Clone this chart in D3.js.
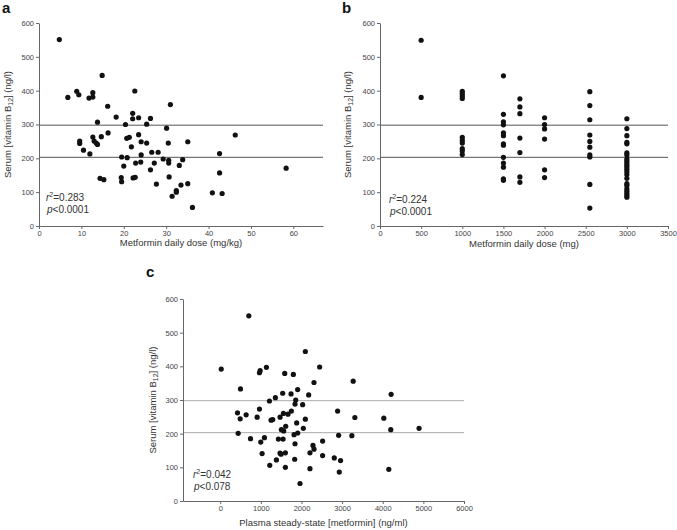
<!DOCTYPE html>
<html>
<head>
<meta charset="utf-8">
<script src="https://cdn.jsdelivr.net/npm/d3@7"></script>
<style>
  body { margin: 0; background: #fff; }
  svg text { font-family: "Liberation Sans", Arial, sans-serif; fill: #333; }
</style>
</head>
<body>
<div id="chart"></div>
<script>
// panel a: dose (mg/kg) vs serum B12
const doseKg = [4.8, 14.9, 6.8, 8.9, 9.4, 12.7, 11.8, 12.7, 22.6, 16.2, 31.0, 18.2, 22.1, 22.1, 23.5, 26.3, 13.8, 20.4, 25.4, 30.1,
  16.3, 23.5, 46.3, 9.6, 9.6, 12.7, 14.7, 13.0, 13.8, 13.5, 20.7, 21.3, 24.1, 25.4, 30.5, 35.1, 21.8, 10.5, 12.0, 19.5,
  20.8, 24.1, 26.6, 28.1, 20.0, 22.8, 24.0, 27.2, 29.3, 30.6, 30.6, 33.1, 33.9, 42.6, 58.3, 26.3, 19.4, 19.5, 14.4, 15.3,
  22.2, 22.7, 30.7, 27.7, 35.1, 33.5, 42.6, 32.4, 32.4, 31.4, 40.9, 43.2, 36.2];
const b12A = [551, 445, 380, 398, 388, 394, 378, 381, 399, 354, 359, 322, 333, 317, 320, 318, 307, 300, 301, 289,
  275, 270, 269, 251, 244, 263, 264, 251, 241, 245, 259, 262, 249, 245, 245, 249, 234, 224, 213, 204,
  202, 210, 218, 218, 177, 186, 189, 186, 198, 194, 186, 179, 196, 214, 171, 166, 143, 131, 141, 137,
  142, 144, 145, 124, 125, 121, 157, 105, 100, 88, 98, 96, 55];

// panel b: dose (mg) groups
const doseMg = [500, 1000, 1500, 1700, 2000, 2550, 3000];
const b12B = [
  [549, 380],
  [398, 391, 384, 377, 262, 253, 245, 229, 222, 211],
  [444, 330, 308, 299, 275, 267, 243, 239, 203, 186, 174, 139, 135],
  [376, 352, 332, 260, 217, 145, 129],
  [320, 300, 287, 257, 166, 143],
  [397, 356, 314, 269, 250, 233, 210, 204, 123, 53],
  [317, 288, 267, 247, 243, 216, 210, 198, 192, 186, 180, 175, 168, 160, 152, 141, 125, 120, 110, 103, 96, 90, 85]
];

// panel c: plasma metformin (ng/ml)
const plasma = [704, 25, 2095, 2447, 1137, 982, 966, 1588, 1800, 2308, 3273, 499, 1906, 1538, 1743, 2177, 4206, 1358, 1211, 1858,
  1841, 2029, 966, 2889, 425, 638, 1555, 1669, 1751, 908, 1473, 3314, 4026, 491, 1293, 1252, 2095, 1882, 1612, 1506,
  1563, 2046, 1817, 1907, 442, 2914, 3240, 4198, 4894, 745, 1088, 1432, 1547, 998, 1841, 2520, 2283, 2308, 1031, 1473,
  1498, 1604, 2209, 2520, 2807, 2962, 1833, 1383, 1219, 1604, 2209, 2930, 4149, 1964];
const b12C = [550, 392, 444, 398, 397, 387, 381, 379, 376, 352, 356, 333, 331, 320, 318, 315, 317, 307, 297, 300,
  288, 286, 273, 267, 262, 256, 260, 258, 267, 249, 249, 248, 246, 244, 242, 240, 243, 232, 222, 212,
  208, 216, 197, 202, 201, 195, 194, 212, 216, 185, 188, 184, 184, 175, 170, 178, 165, 154, 141, 142,
  139, 143, 143, 135, 128, 120, 124, 122, 106, 100, 96, 86, 94, 52];

const refLines = [298, 203];
const yTicks = [0, 100, 200, 300, 400, 500, 600];

const panels = [
  {
    letter: "a", lx: 2, ly: 13,
    x0: 39, x1: 323, y0: 226, y1: 23, xDomain: [0, 67], xTicks: d3.range(0, 61, 10),
    xLabel: "Metformin daily dose (mg/kg)", xLabelY: 246, yLabelX: 11,
    pts: doseKg.map((d, i) => [d, b12A[i]]),
    stats: ["0.283", "p<0.0001"], sx: 46, sy: 201, refColor: "#555"
  },
  {
    letter: "b", lx: 342, ly: 13,
    x0: 380, x1: 668, y0: 226, y1: 23, xDomain: [0, 3500], xTicks: d3.range(0, 3501, 500),
    xLabel: "Metformin daily dose (mg)", xLabelY: 247, yLabelX: 351,
    pts: doseMg.flatMap((d, i) => b12B[i].map(v => [d, v])),
    stats: ["0.224", "p<0.0001"], sx: 389, sy: 203, refColor: "#555"
  },
  {
    letter: "c", lx: 146, ly: 277,
    x0: 183, x1: 464, y0: 501, y1: 299, xDomain: [-916, 6000], xTicks: d3.range(0, 6001, 1000),
    xLabel: "Plasma steady-state [metformin] (ng/ml)", xLabelY: 526, yLabelX: 156,
    pts: plasma.map((d, i) => [d, b12C[i]]),
    stats: ["0.042", "p<0.078"], sx: 193, sy: 478, refColor: "#aaa"
  }
];

const svg = d3.select("#chart").append("svg")
  .attr("width", 677).attr("height", 530);

panels.forEach(function (p) {
  const x = d3.scaleLinear().domain(p.xDomain).range([p.x0, p.x1]);
  const y = d3.scaleLinear().domain([0, 600]).range([p.y0, p.y1]);
  const g = svg.append("g");

  g.append("text").attr("x", p.lx).attr("y", p.ly)
    .style("font-size", "15px").style("font-weight", "bold").style("fill", "#111")
    .text(p.letter);

  // reference lines
  g.selectAll(".ref").data(refLines).enter().append("line")
    .attr("x1", p.x0).attr("x2", p.x1)
    .attr("y1", d => y(d)).attr("y2", d => y(d))
    .attr("stroke", p.refColor).attr("stroke-width", 1);

  const xAxis = g.append("g").attr("transform", "translate(0," + p.y0 + ")")
    .call(d3.axisBottom(x).tickValues(p.xTicks).tickFormat(d3.format("d"))
      .tickSize(3).tickPadding(1.5).tickSizeOuter(0));
  const yAxis = g.append("g").attr("transform", "translate(" + p.x0 + ",0)")
    .call(d3.axisLeft(y).tickValues(yTicks).tickFormat(d3.format("d"))
      .tickSize(3).tickPadding(2).tickSizeOuter(0));
  [xAxis, yAxis].forEach(function (a) {
    a.select(".domain").attr("stroke", "#666");
    a.selectAll(".tick line").attr("stroke", "#666");
    a.selectAll(".tick text").style("font-size", "7.5px").style("fill", "#444")
      .style("font-family", "'Liberation Sans', Arial, sans-serif");
  });

  g.append("g").selectAll("circle").data(p.pts).enter().append("circle")
    .attr("cx", d => x(d[0])).attr("cy", d => y(d[1]))
    .attr("r", 2.6).attr("fill", "#111");

  g.append("text").attr("x", (p.x0 + p.x1) / 2).attr("y", p.xLabelY)
    .attr("text-anchor", "middle").style("font-size", "9.5px")
    .text(p.xLabel);

  const yl = g.append("text")
    .attr("transform", "translate(" + p.yLabelX + "," + ((p.y0 + p.y1) / 2) + ") rotate(-90)")
    .attr("text-anchor", "middle").style("font-size", "9.5px");
  yl.append("tspan").text("Serum [vitamin B");
  yl.append("tspan").attr("dy", 2).style("font-size", "7px").text("12");
  yl.append("tspan").attr("dy", -2).text("] (ng/l)");

  const s1 = g.append("text").attr("x", p.sx).attr("y", p.sy).style("font-size", "10px");
  s1.append("tspan").style("font-style", "italic").text("r");
  s1.append("tspan").attr("dy", -4).style("font-size", "7px").text("2");
  s1.append("tspan").attr("dy", 4).text("=" + p.stats[0]);

  const s2 = g.append("text").attr("x", p.sx + 1).attr("y", p.sy + 12).style("font-size", "10px");
  s2.append("tspan").style("font-style", "italic").text("p");
  s2.append("tspan").text(p.stats[1].slice(1));
});
</script>
</body>
</html>
